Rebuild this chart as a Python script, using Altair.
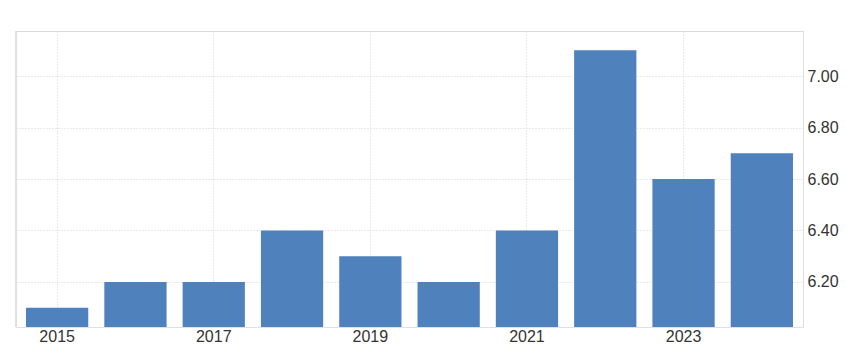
import altair as alt
import pandas as pd

years = ["2015", "2016", "2017", "2018", "2019", "2020", "2021", "2022", "2023", "2024"]
values = [6.10, 6.20, 6.20, 6.40, 6.30, 6.20, 6.40, 7.10, 6.60, 6.70]
x_labels = ["2015", "2017", "2019", "2021", "2023"]
y_ticks = [6.20, 6.40, 6.60, 6.80, 7.00]
y_domain = [6.025, 7.175]

df = pd.DataFrame({"year": years, "value": values})

W, H = 787, 296
FONT = "Liberation Sans"

bars = alt.Chart(df).mark_bar(color="#4f81bd", clip=True).encode(
    x=alt.X(
        "year:N",
        sort=years,
        scale=alt.Scale(paddingInner=0.205, paddingOuter=0.128),
        axis=alt.Axis(
            title=None,
            values=x_labels,
            ticks=False,
            labelAngle=0,
            labelFont=FONT,
            labelFontSize=16,
            labelColor="#333333",
            labelPadding=1,
            grid=True,
            gridColor="#d4d4d4",
            gridDash=[1, 2],
            domainColor="#e0e0e0",
            bandPosition=0.5,
        ),
    ),
    y=alt.Y(
        "value:Q",
        scale=alt.Scale(domain=y_domain, nice=False, zero=False),
        axis=alt.Axis(
            title=None,
            orient="right",
            values=y_ticks + [y_domain[1]],
            labelExpr="datum.value > 7.1 ? '' : format(datum.value, '.2f')",
            ticks=False,
            labelFont=FONT,
            labelFontSize=16,
            labelColor="#333333",
            labelPadding=4,
            grid=True,
            gridColor="#d4d4d4",
            gridDash=[1, 2],
            domainColor="#e0e0e0",
        ),
    ),
)

left_line = alt.Chart(df).mark_rule(color="#e0e0e0").encode(
    x=alt.value(0), y=alt.value(0), y2=alt.value(H)
)

chart = (
    alt.layer(bars, left_line)
    .properties(
        width=W,
        height=H,
        autosize=alt.AutoSizeParams(type="none"),
        padding={"left": 16, "top": 31, "right": 847 - 16 - W, "bottom": 355 - 31 - H},
    )
    .configure_view(stroke=None)
    .configure(background="white")
)

chart.save("out.html", embed_options={"renderer": "svg", "actions": False})
